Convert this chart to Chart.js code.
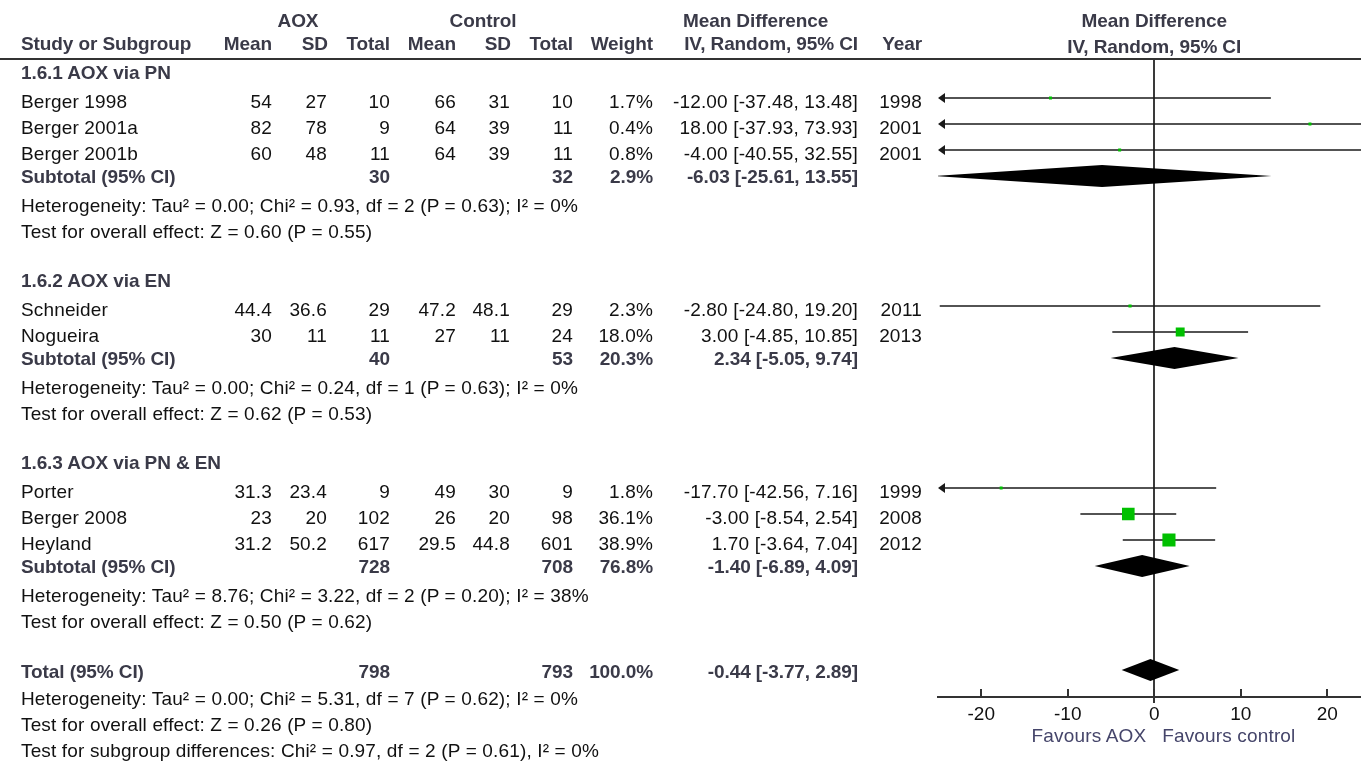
<!DOCTYPE html>
<html>
<head>
<meta charset="utf-8">
<script src="https://cdn.jsdelivr.net/npm/chart.js@4.4.1/dist/chart.umd.min.js"></script>
<style>
  html, body { margin: 0; padding: 0; background: #fff; overflow: hidden; }
  #wrap { position: relative; width: 1361px; height: 767px; overflow: hidden;
          font-family: "Liberation Sans", Arial, sans-serif; font-size: 19px; color: #111; }
  #c { position: absolute; left: 0; top: 0; width: 1400px; height: 767px; }
  .t { position: absolute; white-space: nowrap; line-height: 22px; height: 22px; letter-spacing: 0.15px; }
  .b { font-weight: bold; color: #3a3a48; letter-spacing: -0.1px; }
  .fav { color: #45456a; }
  #rule { position: absolute; left: 0; top: 58px; width: 1361px; height: 2px; background: #333; }
</style>
</head>
<body>
<div id="wrap">
  <canvas id="c" width="1400" height="767"></canvas>
  <div id="rule"></div>
  <div id="txt"></div>
</div>
<script>
// ---- study data ----
const studies  = ['Berger 1998', 'Berger 2001a', 'Berger 2001b', 'Schneider', 'Nogueira', 'Porter', 'Berger 2008', 'Heyland'];
const aoxMean  = [54, 82, 60, 44.4, 30, 31.3, 23, 31.2];
const aoxSD    = [27, 78, 48, 36.6, 11, 23.4, 20, 50.2];
const aoxN     = [10, 9, 11, 29, 11, 9, 102, 617];
const ctlMean  = [66, 64, 64, 47.2, 27, 49, 26, 29.5];
const ctlSD    = [31, 39, 39, 48.1, 11, 30, 20, 44.8];
const ctlN     = [10, 11, 11, 29, 24, 9, 98, 601];
const weight   = [1.7, 0.4, 0.8, 2.3, 18.0, 1.8, 36.1, 38.9];
const md       = [-12.00, 18.00, -4.00, -2.80, 3.00, -17.70, -3.00, 1.70];
const ciLo     = [-37.48, -37.93, -40.55, -24.80, -4.85, -42.56, -8.54, -3.64];
const ciHi     = [13.48, 73.93, 32.55, 19.20, 10.85, 7.16, 2.54, 7.04];
const year     = [1998, 2001, 2001, 2011, 2013, 1999, 2008, 2012];

// ---- subgroup data ----
const groups     = ['1.6.1 AOX via PN', '1.6.2 AOX via EN', '1.6.3 AOX via PN & EN'];
const subAoxN    = [30, 40, 728];
const subCtlN    = [32, 53, 708];
const subWeight  = [2.9, 20.3, 76.8];
const subMd      = [-6.03, 2.34, -1.40];
const subLo      = [-25.61, -5.05, -6.89];
const subHi      = [13.55, 9.74, 4.09];
const subHet = [
  'Heterogeneity: Tau\u00b2 = 0.00; Chi\u00b2 = 0.93, df = 2 (P = 0.63); I\u00b2 = 0%',
  'Heterogeneity: Tau\u00b2 = 0.00; Chi\u00b2 = 0.24, df = 1 (P = 0.63); I\u00b2 = 0%',
  'Heterogeneity: Tau\u00b2 = 8.76; Chi\u00b2 = 3.22, df = 2 (P = 0.20); I\u00b2 = 38%'
];
const subTest = [
  'Test for overall effect: Z = 0.60 (P = 0.55)',
  'Test for overall effect: Z = 0.62 (P = 0.53)',
  'Test for overall effect: Z = 0.50 (P = 0.62)'
];

// ---- overall data ----
const totAoxN = 798, totCtlN = 793, totWeight = 100.0;
const totMd = -0.44, totLo = -3.77, totHi = 2.89;
const totNotes = [
  'Heterogeneity: Tau\u00b2 = 0.00; Chi\u00b2 = 5.31, df = 7 (P = 0.62); I\u00b2 = 0%',
  'Test for overall effect: Z = 0.26 (P = 0.80)',
  'Test for subgroup differences: Chi\u00b2 = 0.97, df = 2 (P = 0.61), I\u00b2 = 0%'
];

// ---- axis ----
const xTicks = [-20, -10, 0, 10, 20];
const X_MIN = -25, X_MAX = 25;

// ---- row layout (row index on the vertical scale) ----
const studyRow  = [1, 2, 3, 9, 10, 16, 17, 18];
const groupRow  = [0, 8, 15];
const subRow    = [4, 11, 19];
const hetRow    = [5, 12, 20];
const testRow   = [6, 13, 21];
const totRow    = 23;
const totNoteRow = [24, 25, 26];

const FONT = '"Liberation Sans", Arial, sans-serif';
const INK = '#1a1a1a';

function arrow(ctx, xTip, y, dir) {
  ctx.beginPath();
  ctx.moveTo(xTip, y);
  ctx.lineTo(xTip - dir * 7, y - 5);
  ctx.lineTo(xTip - dir * 7, y + 5);
  ctx.closePath();
  ctx.fill();
}

function diamond(ctx, x, y, m, lo, hi, row) {
  const py = y.getPixelForValue(row);
  ctx.beginPath();
  ctx.moveTo(x.getPixelForValue(lo), py);
  ctx.lineTo(x.getPixelForValue(m), py - 11);
  ctx.lineTo(x.getPixelForValue(hi), py);
  ctx.lineTo(x.getPixelForValue(m), py + 11);
  ctx.closePath();
  ctx.fill();
}

const forestPlugin = {
  id: 'forest',
  beforeDatasetsDraw(chart) {
    const { ctx, chartArea: a, scales: { x, y } } = chart;
    ctx.save();
    ctx.strokeStyle = INK;
    ctx.lineWidth = 1.6;
    // confidence intervals
    studies.forEach((s, i) => {
      const py = y.getPixelForValue(studyRow[i]);
      const cutL = ciLo[i] < X_MIN, cutR = ciHi[i] > X_MAX;
      const x0 = x.getPixelForValue(Math.max(ciLo[i], X_MIN));
      const x1 = x.getPixelForValue(Math.min(ciHi[i], X_MAX));
      ctx.beginPath();
      ctx.moveTo(x0 + (cutL ? 5 : 0), py);
      ctx.lineTo(x1 - (cutR ? 5 : 0), py);
      ctx.stroke();
      ctx.fillStyle = INK;
      if (cutL) arrow(ctx, x0, py, -1);
      if (cutR) arrow(ctx, x1, py, 1);
    });
    // pooled estimates
    ctx.beginPath();
    ctx.rect(a.left, a.top, a.right - a.left, a.bottom - a.top);
    ctx.clip();
    ctx.fillStyle = '#000';
    groups.forEach((g, j) => diamond(ctx, x, y, subMd[j], subLo[j], subHi[j], subRow[j]));
    diamond(ctx, x, y, totMd, totLo, totHi, totRow);
    ctx.restore();
  },
  afterDraw(chart) {
    const { ctx, chartArea: a, scales: { x } } = chart;
    ctx.save();
    ctx.strokeStyle = '#333';
    ctx.lineWidth = 2;
    xTicks.forEach(v => {
      const px = Math.round(x.getPixelForValue(v));
      ctx.beginPath();
      ctx.moveTo(px, a.bottom - 8);
      ctx.lineTo(px, a.bottom + (v === 0 ? 6 : 1));
      ctx.stroke();
    });
    ctx.restore();
  }
};

const chart = new Chart(document.getElementById('c'), {
  type: 'scatter',
  data: {
    datasets: [{
      data: md.map((v, i) => ({ x: v, y: studyRow[i] })),
      pointStyle: 'rect',
      pointRadius: weight.map(w => Math.max(3, 2.1 * Math.sqrt(w)) / Math.SQRT2),
      backgroundColor: '#00c000',
      borderWidth: 0
    }]
  },
  options: {
    responsive: false,
    animation: false,
    devicePixelRatio: 1,
    events: [],
    layout: { padding: { left: 938, right: 29.5, top: 59, bottom: 0 } },
    plugins: { legend: { display: false }, tooltip: { enabled: false } },
    scales: {
      x: {
        type: 'linear',
        min: X_MIN,
        max: X_MAX,
        afterBuildTicks: s => { s.ticks = xTicks.map(v => ({ value: v })); },
        afterFit: s => { s.height = 70; },
        grid: {
          drawTicks: false,
          lineWidth: 2,
          color: c => (c.tick && c.tick.value === 0) ? '#3a3a3a' : 'rgba(0,0,0,0)'
        },
        border: { display: true, color: '#333', width: 2 },
        ticks: {
          autoSkip: false,
          maxRotation: 0,
          padding: 6,
          color: '#111',
          font: { family: FONT, size: 19 },
          callback: v => String(v)
        }
      },
      y: { display: false, reverse: true, min: -0.5, max: 24.04 }
    }
  },
  plugins: [forestPlugin]
});

// ---- table text ----
const T = document.getElementById('txt');
function put(str, x, yc, align, cls) {
  const d = document.createElement('div');
  d.className = 't' + (cls ? ' ' + cls : '');
  d.textContent = str;
  d.style.top = (yc - 10.5) + 'px';
  if (align === 'left') {
    d.style.left = x + 'px';
  } else if (align === 'right') {
    d.style.left = (x - 500) + 'px'; d.style.width = '500px'; d.style.textAlign = 'right';
  } else {
    d.style.left = (x - 300) + 'px'; d.style.width = '600px'; d.style.textAlign = 'center';
  }
  T.appendChild(d);
}

const COL = { name: 21, aMean: 272, aSD: 327, aN: 390, cMean: 456, cSD: 510, cN: 573, wt: 653, ci: 858, yr: 922 };
const ys = chart.scales.y, xs = chart.scales.x;
const rowY = k => ys.getPixelForValue(k);
const ciText = (m, lo, hi) => m.toFixed(2) + ' [' + lo.toFixed(2) + ', ' + hi.toFixed(2) + ']';

// column headers
put('AOX', 298, 20, 'center', 'b');
put('Control', 483, 20, 'center', 'b');
put('Mean Difference', 683, 20, 'left', 'b');
put('Study or Subgroup', COL.name, 43, 'left', 'b');
put('Mean', COL.aMean, 43, 'right', 'b');
put('SD', COL.aSD + 1, 43, 'right', 'b');
put('Total', COL.aN, 43, 'right', 'b');
put('Mean', COL.cMean, 43, 'right', 'b');
put('SD', COL.cSD + 1, 43, 'right', 'b');
put('Total', COL.cN, 43, 'right', 'b');
put('Weight', COL.wt, 43, 'right', 'b');
put('IV, Random, 95% CI', COL.ci, 43, 'right', 'b');
put('Year', COL.yr, 43, 'right', 'b');
const mid = xs.getPixelForValue((X_MIN + X_MAX) / 2);
put('Mean Difference', mid, 20, 'center', 'b');
put('IV, Random, 95% CI', mid, 46, 'center', 'b');

// study rows
studies.forEach((s, i) => {
  const y = rowY(studyRow[i]) + 4;
  put(s, COL.name, y, 'left');
  put(String(aoxMean[i]), COL.aMean, y, 'right');
  put(String(aoxSD[i]), COL.aSD, y, 'right');
  put(String(aoxN[i]), COL.aN, y, 'right');
  put(String(ctlMean[i]), COL.cMean, y, 'right');
  put(String(ctlSD[i]), COL.cSD, y, 'right');
  put(String(ctlN[i]), COL.cN, y, 'right');
  put(weight[i].toFixed(1) + '%', COL.wt, y, 'right');
  put(ciText(md[i], ciLo[i], ciHi[i]), COL.ci, y, 'right');
  put(String(year[i]), COL.yr, y, 'right');
});

// subgroup rows
groups.forEach((g, j) => {
  put(g, COL.name, rowY(groupRow[j]) + 1, 'left', 'b');
  const y = rowY(subRow[j]) + 1;
  put('Subtotal (95% CI)', COL.name, y, 'left', 'b');
  put(String(subAoxN[j]), COL.aN, y, 'right', 'b');
  put(String(subCtlN[j]), COL.cN, y, 'right', 'b');
  put(subWeight[j].toFixed(1) + '%', COL.wt, y, 'right', 'b');
  put(ciText(subMd[j], subLo[j], subHi[j]), COL.ci, y, 'right', 'b');
  put(subHet[j], COL.name, rowY(hetRow[j]) + 4, 'left');
  put(subTest[j], COL.name, rowY(testRow[j]) + 4, 'left');
});

// overall rows
const ty = rowY(totRow) + 2;
put('Total (95% CI)', COL.name, ty, 'left', 'b');
put(String(totAoxN), COL.aN, ty, 'right', 'b');
put(String(totCtlN), COL.cN, ty, 'right', 'b');
put(totWeight.toFixed(1) + '%', COL.wt, ty, 'right', 'b');
put(ciText(totMd, totLo, totHi), COL.ci, ty, 'right', 'b');
totNotes.forEach((n, k) => put(n, COL.name, rowY(totNoteRow[k]) + 3, 'left'));

// direction labels under the axis
const zero = xs.getPixelForValue(0);
put('Favours AOX', zero - 8, 735.5, 'right', 'fav');
put('Favours control', zero + 8, 735.5, 'left', 'fav');
</script>
</body>
</html>
